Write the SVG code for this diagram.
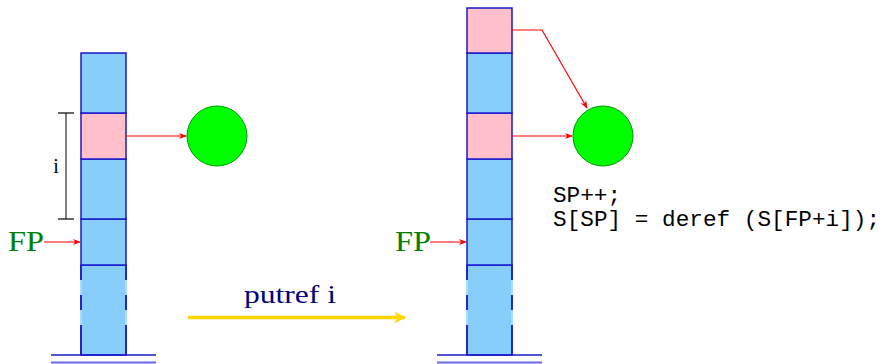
<svg xmlns="http://www.w3.org/2000/svg" width="888" height="364" viewBox="0 0 888 364">
<defs>
<marker id="ar" viewBox="0 0 10 10" refX="9" refY="5" markerWidth="8" markerHeight="8" markerUnits="userSpaceOnUse" orient="auto">
<path d="M0,1 L10,5 L0,9 L3,5 Z" fill="#ff0000"/>
</marker>
<marker id="ay" viewBox="0 0 10 10" refX="9" refY="5" markerWidth="12" markerHeight="12" markerUnits="userSpaceOnUse" orient="auto">
<path d="M0,0 L10,5 L0,10 L3,5 Z" fill="#ffd700"/>
</marker>
</defs>
<style>
.blue{fill:#87cefa;stroke:#1a1acd;stroke-width:1.5}
.pink{fill:#ffc0cb;stroke:#1a1acd;stroke-width:1.5}
.side{stroke:#1a1acd;stroke-width:1.5;fill:none}
.gap{fill:#a6dcfc}
.base1{stroke:#1a1acd;stroke-width:1.5}
.base2{stroke:#6b6bdb;stroke-width:2}
.obj{fill:#00ff00;stroke:#009900;stroke-width:1}
.ptr{stroke:#ff0000;stroke-width:1.2;fill:none;marker-end:url(#ar)}
.fp{font-size:29px;fill:#008000}
.code{font-size:22.7px;fill:#000}
</style>
<g id="left-stack">
<rect class="blue" x="81" y="265" width="45" height="90" stroke="none"/>
<rect class="gap" x="80" y="280" width="2" height="15"/>
<rect class="gap" x="80" y="310" width="2" height="15"/>
<rect class="gap" x="125" y="280" width="2" height="15"/>
<rect class="gap" x="125" y="310" width="2" height="15"/>
<path class="side" d="M81,265 V280 M81,295 V310 M81,325 V355 M126,265 V280 M126,295 V310 M126,325 V355"/>
<rect class="blue" x="81" y="219" width="45" height="46"/>
<rect class="blue" x="81" y="159" width="45" height="60"/>
<rect class="pink" x="81" y="113" width="45" height="46"/>
<rect class="blue" x="81" y="53" width="45" height="60"/>
<line class="base1" x1="51" y1="355" x2="156" y2="355"/>
<line class="base2" x1="51" y1="362.5" x2="156" y2="362.5"/>
</g>
<g id="bracket">
<line x1="66" y1="113" x2="66" y2="219" stroke="#808080" stroke-width="2"/>
<line x1="58" y1="113" x2="74" y2="113" stroke="#000" stroke-width="1.2"/>
<line x1="58" y1="219" x2="74" y2="219" stroke="#000" stroke-width="1.2"/>
<text x="56" y="173" font-family="Liberation Serif, serif" font-size="20" text-anchor="middle">i</text>
</g>
<g id="left-object">
<circle class="obj" cx="217" cy="136" r="30"/>
</g>
<g id="left-fp">
<text class="fp" font-family="Liberation Serif, serif" x="8" y="251" textLength="36" lengthAdjust="spacingAndGlyphs">FP</text>
</g>
<g id="right-stack">
<rect class="blue" x="467" y="265" width="45" height="90" stroke="none"/>
<rect class="gap" x="466" y="280" width="2" height="15"/>
<rect class="gap" x="466" y="310" width="2" height="15"/>
<rect class="gap" x="511" y="280" width="2" height="15"/>
<rect class="gap" x="511" y="310" width="2" height="15"/>
<path class="side" d="M467,265 V280 M467,295 V310 M467,325 V355 M512,265 V280 M512,295 V310 M512,325 V355"/>
<rect class="blue" x="467" y="219" width="45" height="46"/>
<rect class="blue" x="467" y="159" width="45" height="60"/>
<rect class="pink" x="467" y="113" width="45" height="46"/>
<rect class="blue" x="467" y="53" width="45" height="60"/>
<rect class="pink" x="467" y="8" width="45" height="45"/>
<line class="base1" x1="437" y1="355" x2="542" y2="355"/>
<line class="base2" x1="437" y1="362.5" x2="542" y2="362.5"/>
</g>
<g id="right-object">
<circle class="obj" cx="603" cy="136" r="30"/>
</g>
<g id="right-fp">
<text class="fp" font-family="Liberation Serif, serif" x="395" y="251" textLength="36" lengthAdjust="spacingAndGlyphs">FP</text>
</g>
<g id="code">
<text class="code" font-family="Liberation Mono, monospace" x="553" y="202">SP++;</text>
<text class="code" font-family="Liberation Mono, monospace" x="553" y="226" textLength="327" lengthAdjust="spacing">S[SP] = deref (S[FP+i]);</text>
</g>
<g id="transition">
<text x="290" y="303" font-family="Liberation Serif, serif" font-size="25" fill="#000080" text-anchor="middle" textLength="92" lengthAdjust="spacingAndGlyphs">putref i</text>
</g>
<g id="connectors">
<line class="ptr" x1="126" y1="136" x2="186" y2="136"/>
<line class="ptr" x1="44" y1="242" x2="80" y2="242"/>
<line class="ptr" x1="512" y1="136" x2="572" y2="136"/>
<polyline class="ptr" points="512,30 542,30 587,108"/>
<line class="ptr" x1="430" y1="242" x2="466" y2="242"/>
<line x1="188" y1="317.5" x2="405" y2="317.5" stroke="#ffd700" stroke-width="3.5" marker-end="url(#ay)"/>
</g>
</svg>
